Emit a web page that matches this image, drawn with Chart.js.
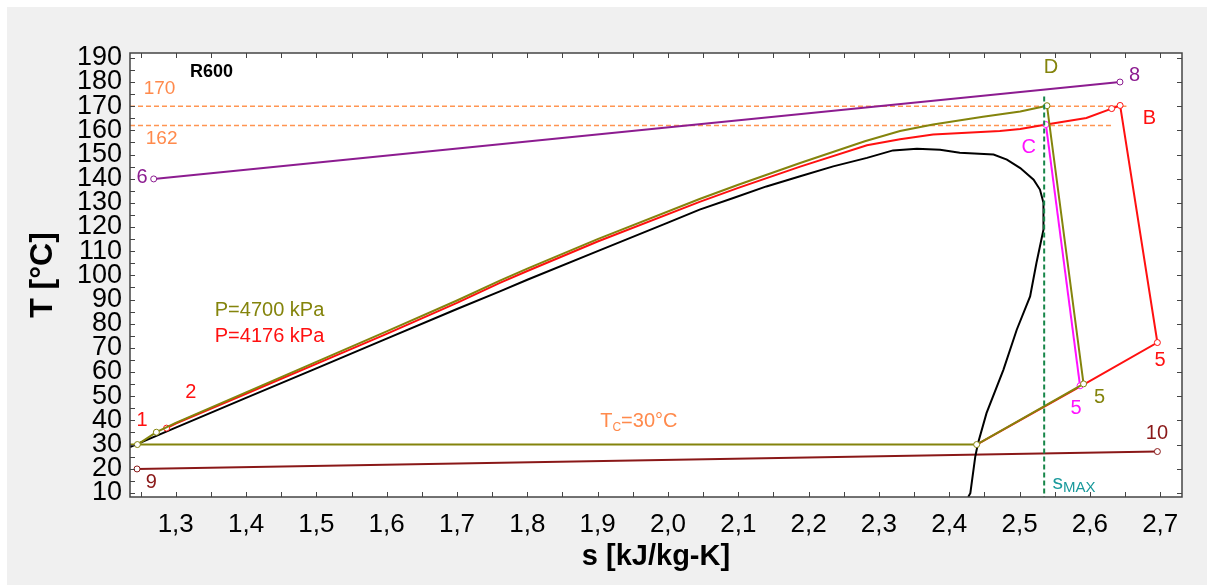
<!DOCTYPE html>
<html>
<head>
<meta charset="utf-8">
<title>R600 T-s</title>
<script src="https://cdn.jsdelivr.net/npm/chart.js@4"></script>
<style>
  html, body { margin: 0; padding: 0; background: #fff; }
</style>
</head>
<body>
<canvas id="tsChart" width="1215" height="585"></canvas>
<script>
// axis ranges: s [kJ/kg-K], T [°C]
const sMin = 1.235, sMax = 2.731;
const tMin = 8.3, tMax = 192;

// saturation dome of R600
const domeS = [1.235, 1.30, 1.40, 1.50, 1.60, 1.70, 1.761, 1.80, 1.90, 2.00, 2.045, 2.093, 2.140, 2.188, 2.235, 2.283, 2.320, 2.354, 2.387, 2.415, 2.463, 2.482, 2.501, 2.520, 2.529, 2.534, 2.534, 2.524, 2.515, 2.496, 2.477, 2.453, 2.441, 2.437, 2.430, 2.427];
const domeT = [29.0, 37.0, 49.3, 61.5, 73.8, 86.1, 93.4, 98.2, 110.0, 121.8, 127.2, 132.0, 136.8, 141.0, 145.1, 148.6, 151.7, 152.4, 152.0, 150.7, 150.0, 147.9, 144.4, 139.6, 135.5, 130.0, 118.9, 105.1, 91.3, 77.5, 60.9, 43.0, 30.6, 25.0, 9.9, 8.3];

// cycle at P=4176 kPa (red): 2 -> C -> B -> 5 -> Tc
const p4176S = [1.287, 1.30, 1.40, 1.50, 1.60, 1.70, 1.761, 1.80, 1.90, 2.045, 2.10, 2.188, 2.283, 2.330, 2.377, 2.472, 2.501, 2.538, 2.595, 2.631, 2.643, 2.696, 2.591, 2.439];
const p4176T = [36.8, 38.7, 51.0, 63.4, 75.8, 88.6, 96.9, 101.8, 114.0, 130.4, 136.2, 145.0, 153.8, 156.3, 158.3, 159.7, 160.6, 162.4, 165.1, 169.0, 170.3, 72.2, 54.8, 30.0];

// cycle at P=4700 kPa (olive): 1 -> D -> 5 -> Tc -> condenser line
const p4700S = [1.2455, 1.2725, 1.30, 1.40, 1.50, 1.60, 1.70, 1.761, 1.80, 1.90, 2.045, 2.10, 2.188, 2.280, 2.330, 2.377, 2.448, 2.501, 2.539, 2.591, 2.439, 1.235];
const p4700T = [30.0, 35.1, 39.0, 51.6, 64.2, 76.8, 89.6, 97.8, 102.8, 115.0, 131.6, 137.5, 146.5, 155.5, 159.7, 162.4, 165.6, 167.8, 170.2, 55.1, 30.0, 30.0];

// expansion C -> 5 (magenta)
const expS = [2.5375, 2.586];
const expT = [162.4, 54.3];

// heat source 6 -> 8 and heat sink 9 -> 10
const sourceS = [1.2687, 2.6428];
const sourceT = [139.9, 180.0];
const sinkS = [1.245, 2.696];
const sinkT = [19.9, 27.1];

// reference isotherms 170 / 162 and s_MAX
const isoT = [170, 162];
const isoEndS = [2.652, 2.633];
const sMaxValue = 2.535;
const sMaxTop = 174;

const FONT = '"Liberation Sans", Arial, sans-serif';
const ORANGE = '#ff8a4c';
const OLIVE = '#84840c';
const RED = '#ff1010';
const MAGENTA = '#ff10ff';
const PURPLE = '#8c1c90';
const BROWN = '#8a1818';

// text labels placed at data coordinates
const notes = [
  { text: 'R600', s: 1.351, t: 184.2, color: '#000', font: 'bold 18px ' + FONT },
  { text: '170', s: 1.277, t: 177.0, color: ORANGE, font: '19px ' + FONT },
  { text: '162', s: 1.280, t: 156.4, color: ORANGE, font: '19px ' + FONT },
  { text: '6', s: 1.2523, t: 140.6, color: PURPLE, font: '20px ' + FONT },
  { text: 'D', s: 2.5447, t: 186.2, color: OLIVE, font: '20px ' + FONT },
  { text: '8', s: 2.6637, t: 182.8, color: PURPLE, font: '20px ' + FONT },
  { text: 'B', s: 2.6845, t: 164.9, color: RED, font: '20px ' + FONT },
  { text: 'C', s: 2.5129, t: 153.1, color: MAGENTA, font: '20px ' + FONT },
  { text: '5', s: 2.6997, t: 64.7, color: RED, font: '20px ' + FONT },
  { text: '5', s: 2.6139, t: 49.5, color: OLIVE, font: '20px ' + FONT },
  { text: '5', s: 2.5802, t: 44.8, color: MAGENTA, font: '20px ' + FONT },
  { text: '10', s: 2.6954, t: 34.4, color: BROWN, font: '20px ' + FONT },
  { text: 's', sub: 'MAX', s: 2.5774, t: 14.1, color: '#1a9a9c', font: '21px ' + FONT, subFont: '15px ' + FONT, subDy: 5 },
  { text: 'T', sub: 'C', after: '=30°C', s: 1.9586, t: 39.5, color: ORANGE, font: '20px ' + FONT, subFont: '12px ' + FONT, subDy: 6 },
  { text: 'P=4700 kPa', s: 1.3555, t: 85.4, color: OLIVE, font: '20px ' + FONT, align: 'left' },
  { text: 'P=4176 kPa', s: 1.3555, t: 74.7, color: RED, font: '20px ' + FONT, align: 'left' },
  { text: '2', s: 1.3213, t: 51.6, color: RED, font: '20px ' + FONT },
  { text: '1', s: 1.2523, t: 39.8, color: RED, font: '20px ' + FONT },
  { text: '9', s: 1.2654, t: 14.3, color: BROWN, font: '20px ' + FONT }
];

function pts(s, t) {
  return s.map((v, i) => ({ x: v, y: t[i] }));
}

function series(label, s, t, color, marks, order, extra) {
  return Object.assign({
    label: label,
    data: pts(s, t),
    showLine: true,
    borderColor: color,
    borderWidth: 2,
    pointRadius: c => marks.includes(c.dataIndex) ? 3 : 0,
    pointBackgroundColor: '#fff',
    pointBorderColor: color,
    pointBorderWidth: 1,
    pointHoverRadius: 0,
    order: order
  }, extra || {});
}

function isStep(v, step) {
  return Math.abs(v / step - Math.round(v / step)) < 1e-6;
}

function drawNote(c, n, x, y) {
  const parts = [{ str: n.text, font: n.font, dy: 0 }];
  if (n.sub) parts.push({ str: n.sub, font: n.subFont, dy: n.subDy });
  if (n.after) parts.push({ str: n.after, font: n.font, dy: 0 });
  let w = 0;
  parts.forEach(p => { c.font = p.font; p.w = c.measureText(p.str).width; w += p.w; });
  let px = n.align === 'left' ? x : x - w / 2;
  c.fillStyle = n.color;
  c.textAlign = 'left';
  c.textBaseline = 'middle';
  parts.forEach(p => { c.font = p.font; c.fillText(p.str, px, y + p.dy); px += p.w; });
}

// panel background, plot frame with inward ticks, text labels
const framePlugin = {
  id: 'framePlugin',
  beforeDraw(chart) {
    const c = chart.ctx, a = chart.chartArea;
    c.save();
    c.fillStyle = '#fff';
    c.fillRect(0, 0, chart.width, chart.height);
    c.fillStyle = '#f0f0f0';
    c.fillRect(7, 7, chart.width - 15, chart.height - 7);
    c.fillStyle = '#fff';
    c.fillRect(a.left, a.top, a.right - a.left, a.bottom - a.top);
    c.restore();
  },
  afterDatasetsDraw(chart) {
    const c = chart.ctx, xs = chart.scales.x, ys = chart.scales.y;
    c.save();
    notes.forEach(n => drawNote(c, n, xs.getPixelForValue(n.s), ys.getPixelForValue(n.t)));
    c.restore();
  },
  afterDraw(chart) {
    const c = chart.ctx, a = chart.chartArea, xs = chart.scales.x, ys = chart.scales.y;
    c.save();
    c.strokeStyle = '#444';
    c.lineWidth = 1;
    c.beginPath();
    xs.ticks.forEach(t => {
      const px = Math.round(xs.getPixelForValue(t.value)) + 0.5;
      c.moveTo(px, a.bottom); c.lineTo(px, a.bottom - 5);
      c.moveTo(px, a.top); c.lineTo(px, a.top + 5);
    });
    ys.ticks.forEach(t => {
      const py = Math.round(ys.getPixelForValue(t.value)) + 0.5;
      c.moveTo(a.left, py); c.lineTo(a.left + 5, py);
      if (isStep(t.value, 10)) { c.moveTo(a.right, py); c.lineTo(a.right - 5, py); }
    });
    c.stroke();
    c.lineWidth = 1.5;
    c.strokeRect(a.left, a.top, a.right - a.left, a.bottom - a.top);
    c.restore();
  }
};

const ctx = document.getElementById('tsChart').getContext('2d');
const tsChart = new Chart(ctx, {
  type: 'scatter',
  data: {
    datasets: [
      series('s_MAX', [sMaxValue, sMaxValue], [sMaxTop, tMin], '#17864a', [], 0, { borderDash: [5, 3] }),
      series('P=4700 kPa', p4700S, p4700T, OLIVE, [0, 1, 18, 19, 20], 1),
      series('C-5', expS, expT, MAGENTA, [0, 1], 2),
      series('P=4176 kPa', p4176S, p4176T, RED, [0, 19, 20, 21], 3),
      series('dome', domeS, domeT, '#000', [], 4),
      series('6-8', sourceS, sourceT, PURPLE, [0, 1], 5),
      series('9-10', sinkS, sinkT, BROWN, [0, 1], 6),
      series('170', [sMin, isoEndS[0]], [isoT[0], isoT[0]], '#ff9552', [], 7, { borderWidth: 1.5, borderDash: [5, 3] }),
      series('162', [sMin, isoEndS[1]], [isoT[1], isoT[1]], '#ff9552', [], 8, { borderWidth: 1.5, borderDash: [5, 3] })
    ]
  },
  options: {
    responsive: false,
    animation: false,
    events: [],
    layout: { padding: { top: 53, right: 33, left: 0, bottom: 0 } },
    plugins: {
      legend: { display: false },
      tooltip: { enabled: false }
    },
    scales: {
      x: {
        type: 'linear',
        min: sMin,
        max: sMax,
        grid: { display: false, drawTicks: false },
        border: { display: false },
        ticks: {
          stepSize: 0.05,
          includeBounds: false,
          autoSkip: false,
          maxRotation: 0,
          padding: 12,
          color: '#000',
          font: { family: FONT, size: 26 },
          callback: v => isStep(v, 0.1) ? v.toFixed(1).replace('.', ',') : ''
        },
        title: {
          display: true,
          text: 's [kJ/kg-K]',
          color: '#000',
          padding: 11,
          font: { family: FONT, size: 29, weight: 'bold' }
        },
        afterFit: s => { s.height = 88; }
      },
      y: {
        type: 'linear',
        min: tMin,
        max: tMax,
        grid: { display: false, drawTicks: false },
        border: { display: false },
        ticks: {
          stepSize: 5,
          includeBounds: false,
          autoSkip: false,
          padding: 8,
          color: '#000',
          font: { family: FONT, size: 27 },
          callback: v => isStep(v, 10) ? String(v) : ''
        },
        title: {
          display: true,
          text: 'T [°C]',
          color: '#000',
          padding: 24,
          font: { family: FONT, size: 32, weight: 'bold' }
        },
        afterFit: s => { s.width = 130; }
      }
    }
  },
  plugins: [framePlugin]
});
</script>
</body>
</html>
